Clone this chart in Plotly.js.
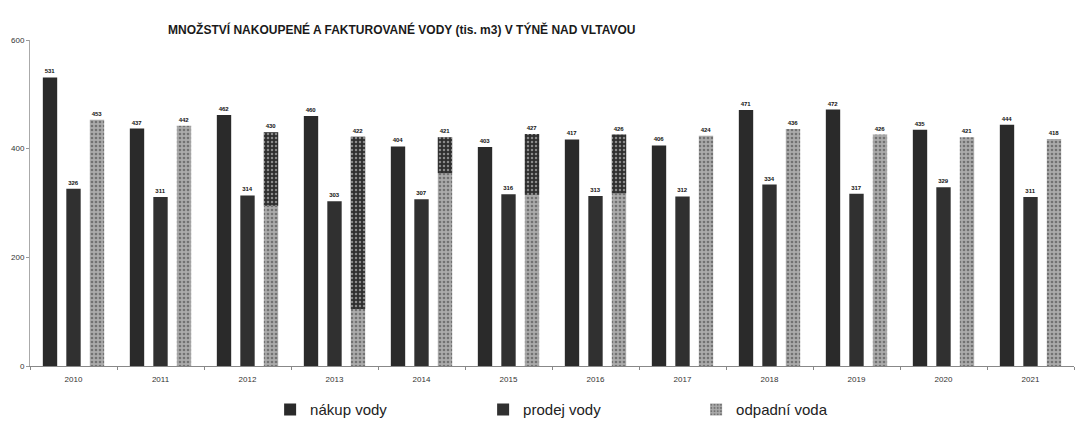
<!DOCTYPE html>
<html>
<head>
<meta charset="utf-8">
<script src="https://cdn.plot.ly/plotly-3.0.1.min.js"></script>
<style>html,body{margin:0;padding:0;background:#fff;}#chart{width:1080px;height:432px;}</style>
</head>
<body>
<div id="chart"></div>
<script>
// Data (tis. m3)
const years = ["2010","2011","2012","2013","2014","2015","2016","2017","2018","2019","2020","2021"];
const nakupVody = [531, 437, 462, 460, 404, 403, 417, 406, 471, 472, 435, 444];
const prodejVody = [326, 311, 314, 303, 307, 316, 313, 312, 334, 317, 329, 311];
const odpadniVoda = [453, 442, 430, 422, 421, 427, 426, 424, 436, 426, 421, 418];
// lighter lower section of the waste-water bar (visible only in some years)
const odpadniSpodniCast = [null, null, 295, 105, 355, 315, 318, null, null, null, null, null];

const W = 0.165;
const labelFont = {family: "Liberation Sans, Arial, sans-serif", size: 6, color: "#111111", weight: "bold"};

const upperY = odpadniVoda.map((v, i) => odpadniSpodniCast[i] == null ? null : v - odpadniSpodniCast[i]);
const upperBase = odpadniSpodniCast.map(v => v == null ? 0 : v);

const traces = [
  {type: "bar", name: "nákup vody", x: years, y: nakupVody, width: W, offset: -0.27 - W/2,
   marker: {color: "#2a2a2a"}, text: nakupVody.map(String), textposition: "outside",
   textfont: labelFont, outsidetextfont: labelFont, cliponaxis: false, hoverinfo: "y"},
  {type: "bar", name: "prodej vody", x: years, y: prodejVody, width: W, offset: -W/2,
   marker: {color: "#303030"}, text: prodejVody.map(String), textposition: "outside",
   textfont: labelFont, outsidetextfont: labelFont, cliponaxis: false, hoverinfo: "y"},
  {type: "bar", name: "odpadní voda", x: years, y: odpadniVoda, width: W, offset: 0.27 - W/2,
   marker: {color: "#a0a0a0", pattern: {shape: ".", fgcolor: "#727272", bgcolor: "#ababab", size: 4, solidity: 0.35}},
   text: odpadniVoda.map(String), textposition: "outside",
   textfont: labelFont, outsidetextfont: labelFont, cliponaxis: false, hoverinfo: "y"},
  {type: "bar", name: "odpadní voda (horní část)", showlegend: false, x: years, y: upperY, base: upperBase,
   width: W, offset: 0.27 - W/2,
   marker: {color: "#333", pattern: {shape: ".", fgcolor: "#8a8a8a", bgcolor: "#2e2e2e", size: 4, solidity: 0.3}},
   hoverinfo: "y"}
];

const layout = {
  width: 1080, height: 432,
  paper_bgcolor: "#fff", plot_bgcolor: "#fff",
  margin: {l: 30, r: 6, t: 40, b: 62},
  barmode: "overlay",
  title: {text: "<b>MNOŽSTVÍ NAKOUPENÉ A FAKTUROVANÉ VODY (tis. m3) V TÝNĚ NAD VLTAVOU</b>",
          font: {family: "Liberation Sans, Arial, sans-serif", size: 12, color: "#1a1a1a"},
          x: 0.372, xanchor: "center", y: 0.93, yanchor: "middle"},
  xaxis: {type: "category", showgrid: false, showline: true, linecolor: "#888", linewidth: 1,
          ticks: "outside", tickson: "boundaries", ticklen: 3, tickcolor: "#888",
          ticklabelstandoff: 5,
          tickfont: {family: "Liberation Sans, Arial, sans-serif", size: 8, color: "#333"},
          range: [-0.5, 11.5], fixedrange: true},
  yaxis: {range: [0, 600], dtick: 200, showgrid: false, showline: true, linecolor: "#aaa", linewidth: 1,
          ticks: "outside", ticklen: 3, tickcolor: "#999", zeroline: false,
          tickfont: {family: "Liberation Sans, Arial, sans-serif", size: 8, color: "#333"}},
  showlegend: true,
  legend: {orientation: "h", x: 0.23, xanchor: "left", y: -0.185, yanchor: "bottom",
           entrywidth: 168, entrywidthmode: "pixels", itemwidth: 30,
           font: {family: "Liberation Sans, Arial, sans-serif", size: 15, color: "#222"},
           traceorder: "normal"}
};

Plotly.newPlot("chart", traces, layout, {displayModeBar: false, staticPlot: true});
</script>
</body>
</html>
